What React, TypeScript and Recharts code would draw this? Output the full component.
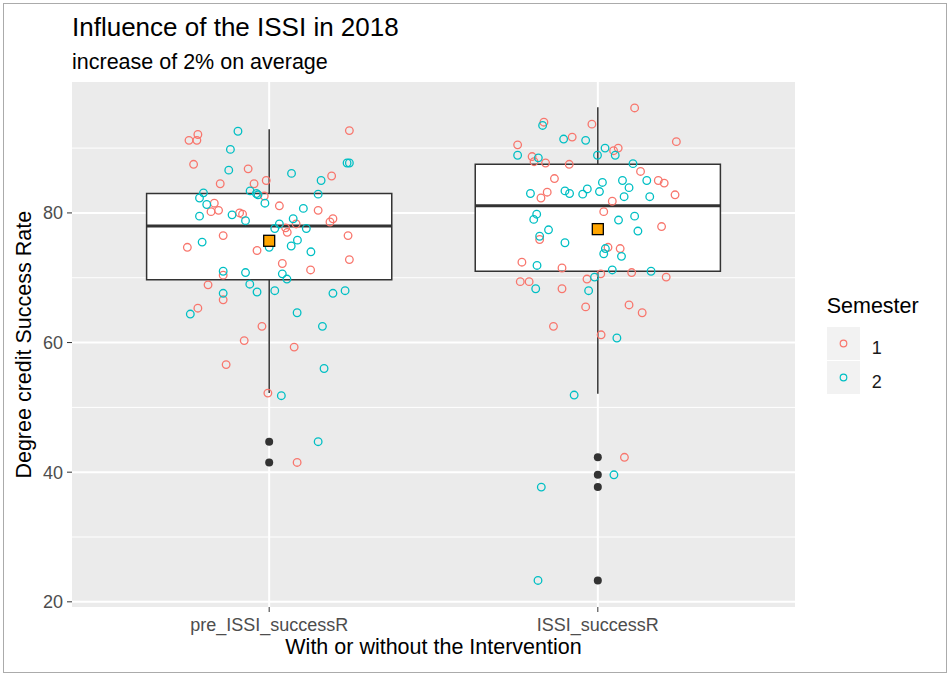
import React from 'react';
import {
  ComposedChart,
  Scatter,
  XAxis,
  YAxis,
  CartesianGrid,
  ReferenceArea,
  ReferenceLine,
  Legend,
} from 'recharts';

const categories = ['pre_ISSI_successR', 'ISSI_successR'];

// box statistics per category
const boxQ1 = [69.7, 71.0];
const boxMedian = [78.0, 81.1];
const boxQ3 = [83.0, 87.5];
const whiskerLow = [52.2, 52.1];
const whiskerHigh = [92.9, 96.3];
const groupMeans = [75.7, 77.5];
const preOutliers = [44.7, 41.5];
const issiOutliers = [42.3, 39.6, 37.7, 23.3];

// jittered points: [jitter, success rate]
const preSem1 = [
  [-0.217, 92.1], [-0.244, 91.2], [-0.22, 91.2], [0.244, 92.7], [-0.23, 87.5], [-0.064, 86.8],
  [0.19, 85.7], [-0.149, 84.5], [-0.009, 85.0], [-0.046, 84.5], [-0.015, 82.6], [-0.167, 81.5],
  [-0.177, 80.2], [-0.154, 80.4], [0.031, 81.1], [-0.09, 80.0], [-0.081, 79.8], [0.149, 80.4],
  [0.194, 79.1], [0.185, 78.6], [0.082, 78.3], [0.05, 77.7], [0.055, 77.0], [-0.14, 76.5],
  [0.24, 76.5], [-0.249, 74.7], [-0.037, 74.2], [0.04, 72.2], [0.244, 72.8], [0.126, 71.2],
  [-0.14, 70.4], [-0.186, 68.9], [-0.14, 66.6], [-0.217, 65.3], [-0.022, 62.5], [-0.076, 60.3],
  [0.076, 59.3], [-0.131, 56.6], [-0.004, 52.2], [0.085, 41.5],
];
const preSem2 = [
  [-0.095, 92.6], [-0.118, 89.8], [-0.123, 86.6], [0.068, 86.1], [0.158, 85.0], [0.237, 87.7],
  [0.244, 87.7], [-0.2, 83.1], [-0.212, 82.3], [-0.19, 81.3], [-0.058, 83.4], [-0.039, 83.0],
  [-0.034, 82.8], [-0.013, 81.5], [0.149, 82.9], [0.104, 80.7], [-0.212, 79.5], [-0.113, 79.7],
  [-0.072, 78.8], [0.073, 79.1], [0.031, 78.3], [0.017, 77.6], [0.113, 77.6], [0.086, 75.8],
  [-0.204, 75.5], [0.067, 74.9], [0.0, 74.7], [0.127, 74.0], [-0.14, 71.0], [-0.072, 70.8],
  [0.04, 70.6], [0.054, 69.8], [-0.059, 69.0], [-0.037, 67.8], [0.017, 68.0], [-0.14, 67.6],
  [0.194, 67.6], [0.231, 68.0], [-0.24, 64.4], [0.085, 64.6], [0.162, 62.5], [0.167, 56.0],
  [0.037, 51.8], [0.149, 44.7],
];
const issiSem1 = [
  [0.112, 96.2], [-0.164, 94.0], [-0.018, 93.7], [-0.078, 91.7], [-0.244, 90.5], [0.239, 91.0],
  [0.062, 90.0], [0.048, 89.6], [-0.2, 88.7], [-0.194, 87.9], [-0.159, 87.7], [-0.087, 87.5],
  [0.13, 86.4], [-0.132, 85.3], [0.184, 85.0], [0.202, 84.6], [-0.154, 83.2], [-0.173, 82.3],
  [0.235, 82.8], [0.044, 81.8], [0.018, 80.2], [0.194, 77.9], [-0.177, 75.9], [0.031, 74.7],
  [0.068, 74.5], [-0.231, 72.4], [-0.109, 71.5], [0.009, 70.6], [0.103, 70.8], [0.208, 70.1],
  [-0.033, 69.8], [-0.236, 69.4], [-0.209, 69.4], [-0.109, 68.3], [-0.037, 65.5], [0.095, 65.8],
  [0.135, 64.6], [-0.135, 62.5], [0.01, 61.2], [0.081, 42.3],
];
const issiSem2 = [
  [-0.168, 93.5], [-0.104, 91.4], [-0.037, 91.2], [0.022, 90.0], [-0.001, 88.9], [0.053, 88.9],
  [-0.244, 88.9], [-0.181, 88.5], [0.107, 87.6], [0.014, 84.7], [0.075, 85.0], [0.149, 85.0],
  [0.095, 83.9], [-0.205, 83.0], [-0.1, 83.4], [-0.086, 83.0], [-0.032, 83.7], [-0.046, 82.9],
  [0.005, 83.3], [0.08, 82.5], [0.158, 82.5], [-0.186, 79.8], [-0.195, 79.0], [0.063, 78.9],
  [0.112, 79.5], [-0.15, 77.4], [0.122, 77.2], [-0.177, 76.4], [-0.1, 75.4], [0.023, 74.5],
  [0.018, 73.7], [0.072, 73.3], [-0.185, 71.9], [0.044, 71.2], [0.162, 71.0], [-0.01, 70.1],
  [-0.189, 68.3], [-0.028, 68.0], [0.058, 60.7], [-0.072, 51.9], [0.049, 39.6], [-0.172, 37.7],
  [-0.182, 23.3],
];

const SEM1 = '#F8766D';
const SEM2 = '#00BFC4';
const BOX_HALF = 0.373;
const FONT = '"Liberation Sans", Arial, Helvetica, sans-serif';

const toPoints = (rows: number[][], pos: number) => rows.map(([j, v]) => ({ x: pos + j, y: v }));

const sem1Data = [...toPoints(preSem1, 1), ...toPoints(issiSem1, 2)];
const sem2Data = [...toPoints(preSem2, 1), ...toPoints(issiSem2, 2)];
const outlierData = [
  ...preOutliers.map((v) => ({ x: 1, y: v })),
  ...issiOutliers.map((v) => ({ x: 2, y: v })),
];
const meanData = groupMeans.map((v, i) => ({ x: i + 1, y: v }));

const OpenCircle = (props: any) => (
  <circle cx={props.cx} cy={props.cy} r={3.8} fill="none" stroke={props.fill} strokeWidth={1.3} />
);

const Outlier = (props: any) => <circle cx={props.cx} cy={props.cy} r={4} fill="#333333" />;

const MeanSquare = (props: any) => (
  <rect x={props.cx - 5.5} y={props.cy - 5.5} width={11} height={11} fill="#FFA500" stroke="#000" strokeWidth={1.3} />
);

const renderLegend = (props: any) => {
  const items = (props.payload || []).filter((p: any) => p.type !== 'none');
  return (
    <div style={{ position: 'relative', fontFamily: FONT, width: 130, height: 110 }}>
      <div style={{ position: 'absolute', left: 0, top: 0, fontSize: 21.5, lineHeight: '21.5px', color: '#000', whiteSpace: 'nowrap' }}>
        Semester
      </div>
      {items.map((item: any, i: number) => (
        <div key={item.value} style={{ position: 'absolute', left: 0, top: 30.7 + i * 34.6 }}>
          <svg width={34} height={34} style={{ position: 'absolute', left: 0, top: 0 }}>
            <rect x={0} y={0} width={33} height={33} fill="#F2F2F2" />
            <circle cx={16.5} cy={16.5} r={3.3} fill="none" stroke={item.color} strokeWidth={1.2} />
          </svg>
          <div style={{ position: 'absolute', left: 45, top: 12, fontSize: 18, lineHeight: '18px', color: '#1A1A1A' }}>
            {item.value}
          </div>
        </div>
      ))}
    </div>
  );
};

export default function App() {
  return (
    <div style={{ position: 'absolute', left: 0, top: 0, width: 952, height: 674, background: '#fff', fontFamily: FONT }}>
      <div style={{ position: 'absolute', left: 3, top: 3, width: 942, height: 668, border: '1px solid #ABABAB' }} />
      <div style={{ position: 'absolute', left: 72, top: 14, fontSize: 26, lineHeight: '26px', color: '#000', whiteSpace: 'nowrap' }}>
        Influence of the ISSI in 2018
      </div>
      <div style={{ position: 'absolute', left: 72, top: 52, fontSize: 21.5, lineHeight: '21.5px', color: '#000', whiteSpace: 'nowrap' }}>
        increase of 2% on average
      </div>
      <div style={{ position: 'absolute', left: 233.5, top: 637, width: 400, textAlign: 'center', fontSize: 21.5, lineHeight: '21.5px', color: '#000', whiteSpace: 'nowrap' }}>
        With or without the Intervention
      </div>
      <div
        style={{
          position: 'absolute', left: -175, top: 333.75, width: 400, height: 21.5, textAlign: 'center',
          fontSize: 21.5, lineHeight: '21.5px', color: '#000', whiteSpace: 'nowrap', transform: 'rotate(-90deg)',
        }}
      >
        Degree credit Success Rate
      </div>
      <div style={{ position: 'absolute', left: 0, top: 0 }}>
        {/* the legend (130px wide) is added to the right margin by recharts */}
        <ComposedChart width={952} height={674} margin={{ top: 82, right: 27, bottom: 0, left: 0 }}>
          <CartesianGrid fill="#EBEBEB" stroke="#FFFFFF" strokeWidth={1} horizontalValues={[30, 50, 70, 90]} vertical={false} />
          <CartesianGrid stroke="#FFFFFF" strokeWidth={2} horizontalValues={[20, 40, 60, 80]} verticalValues={[1, 2]} />
          <XAxis
            type="number"
            dataKey="x"
            domain={[0.4, 2.6]}
            ticks={[1, 2]}
            interval={0}
            allowDataOverflow
            tickFormatter={(v: number) => categories[Math.round(v) - 1]}
            axisLine={false}
            tickLine={{ stroke: '#333333' }}
            tickSize={5}
            tickMargin={6}
            tick={{ fill: '#4D4D4D', fontSize: 18 }}
            height={67}
          />
          <YAxis
            type="number"
            dataKey="y"
            domain={[19.2, 100.2]}
            ticks={[20, 40, 60, 80]}
            interval={0}
            allowDataOverflow
            axisLine={false}
            tickLine={{ stroke: '#333333' }}
            tickSize={5}
            tickMargin={4}
            tick={{ fill: '#4D4D4D', fontSize: 18 }}
            width={72}
          />
          {categories.map((c, i) => (
            <ReferenceLine
              key={'wh' + c}
              segment={[{ x: i + 1, y: boxQ3[i] }, { x: i + 1, y: whiskerHigh[i] }]}
              stroke="#333333"
              strokeWidth={1.5}
            />
          ))}
          {categories.map((c, i) => (
            <ReferenceLine
              key={'wl' + c}
              segment={[{ x: i + 1, y: whiskerLow[i] }, { x: i + 1, y: boxQ1[i] }]}
              stroke="#333333"
              strokeWidth={1.5}
            />
          ))}
          {categories.map((c, i) => (
            <ReferenceArea
              key={'box' + c}
              x1={i + 1 - BOX_HALF}
              x2={i + 1 + BOX_HALF}
              y1={boxQ1[i]}
              y2={boxQ3[i]}
              fill="#FFFFFF"
              fillOpacity={1}
              stroke="#333333"
              strokeWidth={1.5}
            />
          ))}
          {categories.map((c, i) => (
            <ReferenceLine
              key={'med' + c}
              segment={[{ x: i + 1 - BOX_HALF, y: boxMedian[i] }, { x: i + 1 + BOX_HALF, y: boxMedian[i] }]}
              stroke="#333333"
              strokeWidth={3}
            />
          ))}
          <Scatter data={outlierData} shape={Outlier} legendType="none" isAnimationActive={false} />
          <Scatter name="1" data={sem1Data} fill={SEM1} shape={OpenCircle} legendType="circle" isAnimationActive={false} />
          <Scatter name="2" data={sem2Data} fill={SEM2} shape={OpenCircle} legendType="circle" isAnimationActive={false} />
          <Scatter data={meanData} shape={MeanSquare} legendType="none" isAnimationActive={false} />
          <Legend
            layout="horizontal"
            verticalAlign="middle"
            align="right"
            content={renderLegend}
            wrapperStyle={{ left: 826.7, top: 296, width: 130, height: 110 }}
          />
        </ComposedChart>
      </div>
    </div>
  );
}
